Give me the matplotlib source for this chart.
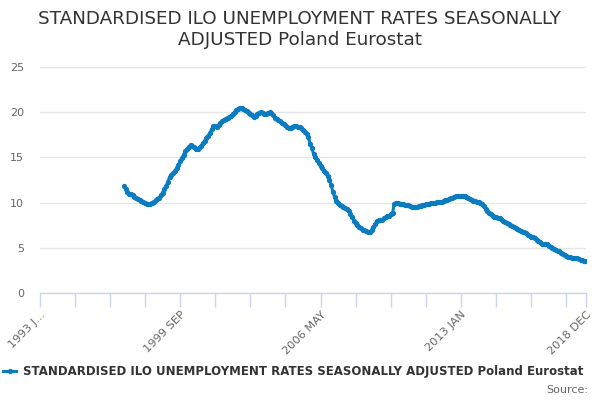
import matplotlib
matplotlib.use("Agg")
import matplotlib.pyplot as plt

# monthly categories 1993 JAN .. 2018 DEC
MONTHS = ["JAN", "FEB", "MAR", "APR", "MAY", "JUN",
          "JUL", "AUG", "SEP", "OCT", "NOV", "DEC"]
kategoriler = [f"{y} {m}" for y in range(1993, 2019) for m in MONTHS]

# series starts 1997 JAN (%)
baslangic = "1997 JAN"
degerler = [
    # 1997
    11.8, 11.5, 11.2, 11.0, 10.95, 10.8, 10.65, 10.55, 10.4, 10.3, 10.2, 10.1,
    # 1998
    10.0, 9.9, 9.85, 9.9, 10.0, 10.1, 10.25, 10.4, 10.55, 10.8, 11.1, 11.5,
    # 1999
    11.8, 12.3, 12.8, 13.0, 13.3, 13.5, 13.8, 14.2, 14.6, 14.9, 15.3, 15.7,
    # 2000
    15.95, 16.2, 16.4, 16.3, 16.1, 15.95, 15.9, 16.05, 16.3, 16.55, 16.85, 17.1,
    # 2001
    17.35, 17.7, 18.1, 18.45, 18.5, 18.4, 18.55, 18.8, 19.0, 19.15, 19.3, 19.4,
    # 2002
    19.45, 19.6, 19.8, 20.0, 20.2, 20.4, 20.5, 20.5, 20.4, 20.25, 20.1, 19.95,
    # 2003
    19.8, 19.65, 19.5, 19.55, 19.75, 19.95, 20.0, 19.9, 19.8, 19.8, 19.95, 20.0,
    # 2004
    19.95, 19.7, 19.4, 19.3, 19.15, 19.0, 18.85, 18.7, 18.55, 18.4, 18.2, 18.25,
    # 2005
    18.35, 18.45, 18.45, 18.4, 18.35, 18.2, 18.0, 17.8, 17.6, 17.3, 16.5, 16.0,
    # 2006
    15.4, 15.0, 14.7, 14.4, 14.1, 13.85, 13.55, 13.25, 12.95, 12.5, 11.95, 11.2,
    # 2007
    10.6, 10.2, 9.95, 9.75, 9.6, 9.5, 9.4, 9.3, 9.05, 8.75, 8.4, 8.0,
    # 2008
    7.7, 7.5, 7.35, 7.15, 7.0, 6.95, 6.85, 6.75, 6.7, 6.95, 7.25, 7.6,
    # 2009
    7.95, 8.05, 8.05, 8.1, 8.25, 8.4, 8.5, 8.55, 8.7, 8.9, 9.9, 10.0,
    # 2010
    9.95, 9.9, 9.85, 9.8, 9.78, 9.75, 9.72, 9.65, 9.55, 9.5, 9.48, 9.5,
    # 2011
    9.6, 9.65, 9.7, 9.75, 9.8, 9.85, 9.9, 9.95, 10.0, 10.0, 10.05, 10.05,
    # 2012
    10.1, 10.1, 10.2, 10.25, 10.3, 10.4, 10.5, 10.55, 10.6, 10.7, 10.75, 10.78,
    # 2013
    10.78, 10.75, 10.7, 10.6, 10.5, 10.4, 10.3, 10.2, 10.15, 10.1, 10.05, 10.0,
    # 2014
    9.8, 9.6, 9.3, 9.05, 8.85, 8.7, 8.55, 8.45, 8.4, 8.35, 8.3, 8.2,
    # 2015
    8.0, 7.9, 7.75, 7.6, 7.5, 7.4, 7.3, 7.2, 7.1, 7.0, 6.9, 6.8,
    # 2016
    6.7, 6.6, 6.45, 6.35, 6.25, 6.2, 6.05, 5.9, 5.75, 5.6, 5.45, 5.4,
    # 2017
    5.4, 5.4, 5.25, 5.1, 5.0, 4.9, 4.8, 4.7, 4.6, 4.45, 4.3, 4.2,
    # 2018
    4.1, 4.0, 3.95, 3.9, 3.9, 3.85, 3.85, 3.75, 3.65, 3.6, 3.55, 3.55,
]

etiketli = {"1993 JAN": "1993 J...", "1999 SEP": "1999 SEP",
            "2006 MAY": "2006 MAY", "2013 JAN": "2013 JAN",
            "2018 DEC": "2018 DEC"}
y_ticks = [0, 5, 10, 15, 20, 25]

seri_adi = "STANDARDISED ILO UNEMPLOYMENT RATES SEASONALLY ADJUSTED Poland Eurostat"
baslik = "STANDARDISED ILO UNEMPLOYMENT RATES SEASONALLY\nADJUSTED Poland Eurostat"

MAVI = "#0c7cc1"
GRI = "#666666"
KOYU = "#333333"

fig = plt.figure(figsize=(6, 4), dpi=100)
ax = fig.add_axes([0.066, 0.2675, 0.9103, 0.565])

i0 = kategoriler.index(baslangic)
x = list(range(i0, i0 + len(degerler)))
ax.plot(x, degerler, color=MAVI, lw=2.2, marker="o", ms=2.8,
        mec=MAVI, mfc=MAVI, label=seri_adi, solid_joinstyle="round")

ax.set_xlim(0, len(kategoriler) - 1)
ax.set_ylim(0, 25)

# ticks every 20 months plus the last one
tick_pos = list(range(0, len(kategoriler), 20)) + [len(kategoriler) - 1]
tick_lab = [etiketli.get(kategoriler[p], "") for p in tick_pos]
ax.set_xticks(tick_pos)
ax.set_xticklabels(tick_lab, rotation=45, ha="right", rotation_mode="anchor",
                   color=GRI, fontsize=8.2)
ax.tick_params(axis="x", length=10, width=1, color="#ccd6eb", pad=2)

ax.set_yticks(y_ticks)
ax.set_yticklabels([str(v) for v in y_ticks], color=GRI, fontsize=8)
ax.tick_params(axis="y", length=0, pad=11)
for lab in ax.get_yticklabels():
    lab.set_horizontalalignment("right")

ax.grid(axis="y", color="#e6e6e6", lw=1)
ax.set_axisbelow(True)
for s in ["top", "right", "left"]:
    ax.spines[s].set_visible(False)
ax.spines["bottom"].set_color("#ccd6eb")
ax.spines["bottom"].set_linewidth(1)
ax.spines["bottom"].set_zorder(0.5)

fig.suptitle(baslik, x=0.5, y=0.975, fontsize=13.2, color=KOYU,
             linespacing=1.18)

fig.legend(loc="center left", bbox_to_anchor=(-0.012, 0.07),
           frameon=False, handlelength=1.1, handletextpad=0.55,
           prop={"weight": "bold", "size": 8.5}, labelcolor=KOYU)

fig.text(0.98, 0.025, "Source:", ha="right", va="center",
         fontsize=8, color=GRI)

fig.savefig("out.png", dpi=100)
